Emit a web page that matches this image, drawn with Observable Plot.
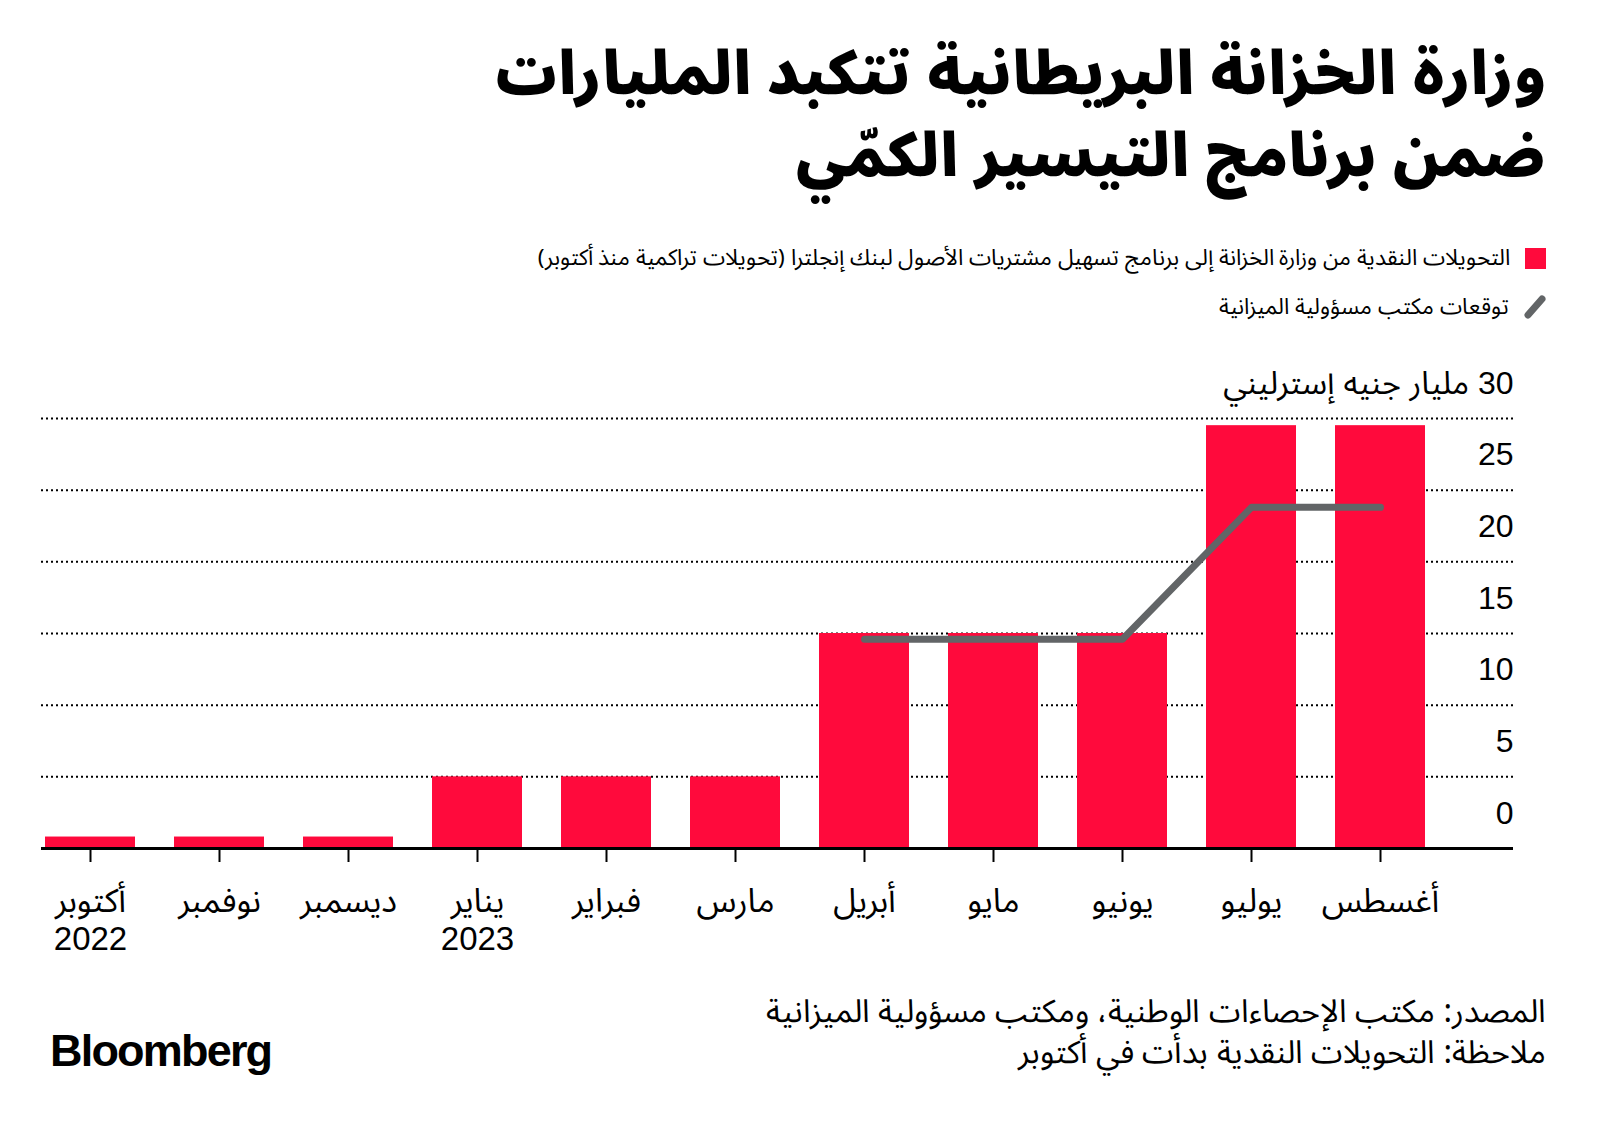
<!DOCTYPE html>
<html lang="ar">
<head>
<meta charset="utf-8">
<script src="https://cdn.jsdelivr.net/npm/d3@7"></script>
<script src="https://cdn.jsdelivr.net/npm/@observablehq/plot@0.6"></script>
<style>
  @font-face { font-family: "ArTight"; font-weight: 400;
    src: local("Noto Sans Arabic"), local("NotoSansArabic-Regular"), local("Noto Sans Arabic Regular"), local("DejaVu Sans"), local("DejaVuSans");
    ascent-override: 95%; descent-override: 32%; unicode-range: U+0600-06FF, U+0750-077F, U+FB50-FDFF, U+FE70-FEFF, U+060C; }
  @font-face { font-family: "ArTight"; font-weight: 700 900;
    src: local("Noto Sans Arabic Bold"), local("NotoSansArabic-Bold"), local("Noto Sans Arabic Black"), local("NotoSansArabic-Black"), local("DejaVu Sans Bold"), local("DejaVuSans-Bold");
    ascent-override: 95%; descent-override: 32%; unicode-range: U+0600-06FF, U+0750-077F, U+FB50-FDFF, U+FE70-FEFF, U+060C; }
  html, body { margin: 0; padding: 0; background: #fff; }
  body { width: 1600px; height: 1132px; position: relative; overflow: hidden; color: #000;
         font-family: "ArTight", "Noto Sans Arabic", "DejaVu Sans Condensed", "DejaVu Sans", sans-serif; }
  #title { position: absolute; right: 54px; top: 34px; direction: rtl; text-align: right;
           font-size: 60px; font-weight: 900; line-height: 82px; white-space: nowrap; }
  .leg { position: absolute; right: 54px; direction: rtl; display: flex; align-items: center;
         gap: 15px; font-size: 22.5px; white-space: nowrap; }
  .sw { width: 21px; height: 21px; background: #ff0a3c; flex: none; }
  #chart { position: absolute; left: 0; top: 340px; }
  .foot { position: absolute; right: 54px; direction: rtl; text-align: right;
          font-size: 32px; line-height: 36px; white-space: nowrap; }
  #logo { position: absolute; left: 50px; top: 1026px; font-family: "Liberation Sans", Arial, sans-serif;
          font-weight: 700; font-size: 45px; letter-spacing: -1.8px; line-height: 50px; }
</style>
</head>
<body>
<div id="title">وزارة الخزانة البريطانية تتكبد المليارات<br>ضمن برنامج التيسير الكمّي</div>
<div class="leg" style="top:234px"><span class="sw"></span><span>التحويلات النقدية من وزارة الخزانة إلى برنامج تسهيل مشتريات الأصول لبنك إنجلترا (تحويلات تراكمية منذ أكتوبر)</span></div>
<div class="leg" style="top:283px"><svg width="22" height="24" style="flex:none"><line x1="4" y1="20" x2="18" y2="4" stroke="#626567" stroke-width="7" stroke-linecap="round"/></svg><span>توقعات مكتب مسؤولية الميزانية</span></div>
<div id="chart"></div>
<div class="foot" style="top:994px">المصدر: مكتب الإحصاءات الوطنية، ومكتب مسؤولية الميزانية</div>
<div class="foot" style="top:1035px">ملاحظة: التحويلات النقدية بدأت في أكتوبر</div>
<div id="logo">Bloomberg</div>
<script>
const months = ["أكتوبر","نوفمبر","ديسمبر","يناير","فبراير","مارس","أبريل","مايو","يونيو","يوليو","أغسطس"];
const years = ["2022","","","2023","","","","","","",""];
const transfers = [0.8,0.8,0.8,5,5,5,15,15,15,29.5,29.5];
const forecastMonths = ["أبريل","مايو","يونيو","يوليو","أغسطس"];
const forecast = [14.6,14.6,14.6,23.8,23.8];
const yTicks = [0,5,10,15,20,25,30];
const yUnit = "مليار جنيه إسترليني";

const bars = months.map((m,i) => ({month: m, value: transfers[i]}));
const fc = forecastMonths.map((m,i) => ({month: m, value: forecast[i]}));
const fontStack = '"Liberation Sans", "Noto Sans Arabic", "DejaVu Sans Condensed", "DejaVu Sans", sans-serif';

const chart = Plot.plot({
  width: 1600, height: 640,
  marginTop: 78, marginBottom: 132, marginLeft: 41, marginRight: 87,
  style: {fontFamily: fontStack, fontSize: "32px", color: "#000", background: "transparent", overflow: "visible"},
  x: {domain: months, range: [44, 1426.5], paddingInner: 0.305, paddingOuter: 0, align: 0.5},
  y: {domain: [0, 30], range: [508, 78]},
  marks: [
    Plot.ruleY(yTicks.filter(d => d > 0), {stroke: "#000", strokeWidth: 2, strokeDasharray: "2,3"}),
    Plot.barY(bars, {x: "month", y: "value", fill: "#ff0a3c"}),
    Plot.ruleY([0], {stroke: "#000", strokeWidth: 3}),
    Plot.line(fc, {x: "month", y: "value", stroke: "#626567", strokeWidth: 7, strokeLinecap: "round", strokeLinejoin: "round"}),
    Plot.axisX({ticks: months, tickSize: 14, tickPadding: 23, strokeWidth: 2, label: null, fontSize: 33, lineHeight: 1.14,
      tickFormat: (m) => { const i = months.indexOf(m); return years[i] ? m + "\n" + years[i] : m; }}),
    Plot.axisY({anchor: "right", ticks: yTicks, tickSize: 0, tickPadding: 0, textAnchor: "end", dy: -35, label: null, fontSize: 32,
      tickFormat: (d) => d === 30 ? "\u2067" + d + " " + yUnit + "\u2069" : String(d)})
  ]
});
document.getElementById("chart").appendChild(chart);
</script>
</body>
</html>
